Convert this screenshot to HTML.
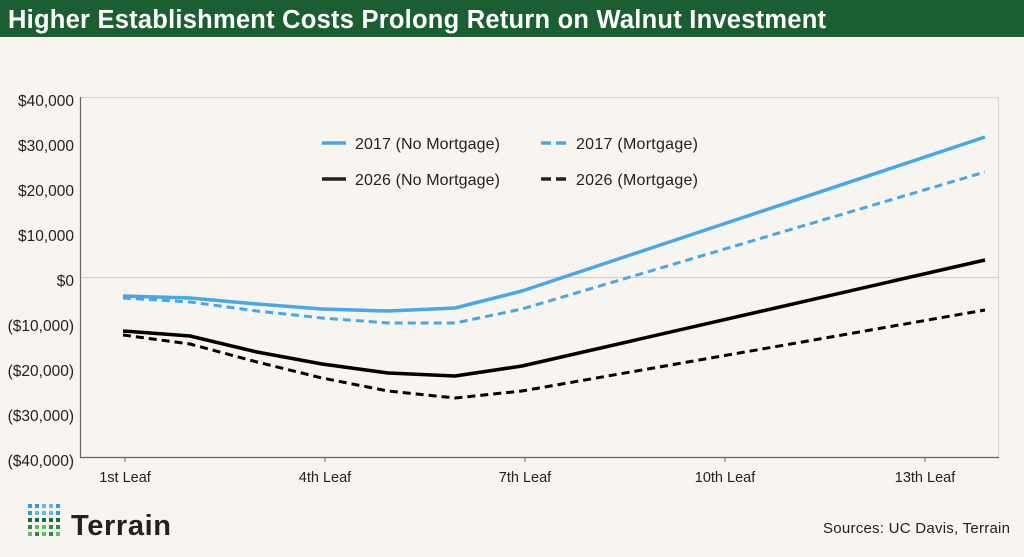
<!DOCTYPE html>
<html><head><meta charset="utf-8"><style>
body{margin:0;width:1024px;height:552px;background:#f8f4f0;font-family:"Liberation Sans",sans-serif;overflow:hidden}
</style></head><body>
<svg width="1024" height="552" xmlns="http://www.w3.org/2000/svg" font-family="Liberation Sans, sans-serif">
<rect x="0" y="0" width="1024" height="37" fill="#1a5e31"/>
<text x="8" y="28" fill="#fff" font-size="25.5" font-weight="bold" textLength="818">Higher Establishment Costs Prolong Return on Walnut Investment</text>
<rect x="80.5" y="97.5" width="918" height="360" fill="none" stroke="#ddd8d3" stroke-width="1.2"/>
<line x1="80" y1="277.5" x2="999" y2="277.5" stroke="#d6d0ca" stroke-width="1.2"/>
<line x1="80.5" y1="97" x2="80.5" y2="458" stroke="#666" stroke-width="1.2"/>
<line x1="80" y1="457.5" x2="999" y2="457.5" stroke="#666" stroke-width="1.2"/>
<g stroke="#666" stroke-width="1"><line x1="125" y1="458" x2="125" y2="462"/><line x1="325" y1="458" x2="325" y2="462"/><line x1="525" y1="458" x2="525" y2="462"/><line x1="725" y1="458" x2="725" y2="462"/><line x1="925" y1="458" x2="925" y2="462"/></g>
<g font-size="15.5" fill="#222" text-anchor="end">
<text x="74" y="106">$40,000</text><text x="74" y="151">$30,000</text><text x="74" y="196">$20,000</text><text x="74" y="241">$10,000</text><text x="74" y="286">$0</text><text x="74" y="331">($10,000)</text><text x="74" y="376">($20,000)</text><text x="74" y="421">($30,000)</text><text x="74" y="466">($40,000)</text>
</g>
<g font-size="14.5" fill="#222" text-anchor="middle">
<text x="125" y="482">1st Leaf</text><text x="325" y="482">4th Leaf</text><text x="525" y="482">7th Leaf</text><text x="725" y="482">10th Leaf</text><text x="925" y="482">13th Leaf</text>
</g>
<g fill="none" stroke-width="3.5" stroke-linejoin="round">
<polyline stroke="#46a8e6" points="123,296 190,298 257,304 322,309 388,311 455,308 522,291 985,137"/>
<polyline stroke="#46a8e6" stroke-dasharray="8,5" stroke-width="3" points="123,298 190,302 257,311 322,318 388,323 455,323 522,309 985,172"/>
<polyline stroke="#000" points="123,331 190,336 257,352 322,364 388,373 455,376 522,366 985,260"/>
<polyline stroke="#000" stroke-dasharray="8,5" stroke-width="3" points="123,335 190,344 257,362 322,378 388,391 455,398 522,391 985,310"/>
</g>
<g stroke-width="3.5">
<line x1="322" y1="143" x2="346" y2="143" stroke="#46a8e6"/>
<line x1="541" y1="143" x2="568" y2="143" stroke="#46a8e6" stroke-dasharray="10,5"/>
<line x1="322" y1="179" x2="346" y2="179" stroke="#222"/>
<line x1="541" y1="179" x2="568" y2="179" stroke="#222" stroke-dasharray="10,5"/>
</g>
<g font-size="16" fill="#222">
<text x="355" y="149" textLength="145">2017 (No Mortgage)</text><text x="576" y="149" textLength="122">2017 (Mortgage)</text>
<text x="355" y="185" textLength="145">2026 (No Mortgage)</text><text x="576" y="185" textLength="122">2026 (Mortgage)</text>
</g>
<g>
<rect x="28" y="504" width="4" height="4" fill="#2aa0e0"/><rect x="35" y="504" width="4" height="4" fill="#2aa0e0"/><rect x="42" y="504" width="4" height="4" fill="#5bbdf0"/><rect x="49" y="504" width="4" height="4" fill="#5bbdf0"/><rect x="56" y="504" width="4" height="4" fill="#2aa0e0"/>
<rect x="28" y="511" width="4" height="4" fill="#2aa0e0"/><rect x="35" y="511" width="4" height="4" fill="#5bbdf0"/><rect x="42" y="511" width="4" height="4" fill="#5bbdf0"/><rect x="49" y="511" width="4" height="4" fill="#5bbdf0"/><rect x="56" y="511" width="4" height="4" fill="#2aa0e0"/>
<rect x="28" y="518" width="4" height="4" fill="#1a6a35"/><rect x="35" y="518" width="4" height="4" fill="#1a6a35"/><rect x="42" y="518" width="4" height="4" fill="#1a6a35"/><rect x="49" y="518" width="4" height="4" fill="#1a6a35"/><rect x="56" y="518" width="4" height="4" fill="#1a6a35"/>
<rect x="28" y="525" width="4" height="4" fill="#2e8a3e"/><rect x="35" y="525" width="4" height="4" fill="#5cc05a"/><rect x="42" y="525" width="4" height="4" fill="#5cc05a"/><rect x="49" y="525" width="4" height="4" fill="#2e8a3e"/><rect x="56" y="525" width="4" height="4" fill="#2e8a3e"/>
<rect x="28" y="532" width="4" height="4" fill="#5cc05a"/><rect x="35" y="532" width="4" height="4" fill="#2e8a3e"/><rect x="42" y="532" width="4" height="4" fill="#5cc05a"/><rect x="49" y="532" width="4" height="4" fill="#2e8a3e"/><rect x="56" y="532" width="4" height="4" fill="#5cc05a"/>
</g>
<text x="71" y="535" font-size="29" font-weight="bold" fill="#222" textLength="100">Terrain</text>
<text x="1010" y="533" font-size="15" fill="#222" text-anchor="end" textLength="187">Sources: UC Davis, Terrain</text>
</svg>
</body></html>
